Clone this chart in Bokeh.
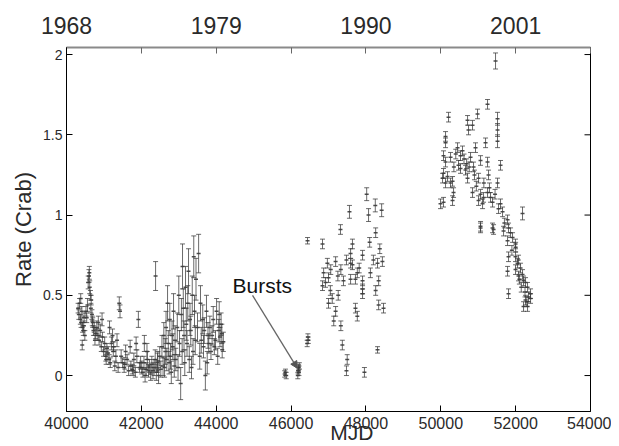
from bokeh.plotting import figure
from bokeh.models import (LinearAxis, FixedTicker, CustomJSTickFormatter, Range1d,
                          Arrow, NormalHead, Label, ColumnDataSource)
from bokeh.embed import file_html
from bokeh.resources import INLINE

# ---- data: segment 1 (1968-1979) ----
a_mjd = [40310, 40330, 40350, 40370, 40390, 40410, 40430, 40450, 40470, 40490, 40380, 40420, 40460,
         40520, 40540, 40560, 40580, 40600, 40620, 40640, 40660, 40680, 40700, 40720, 40740, 40760, 40780, 40610, 40650, 40690,
         40810, 40840, 40870, 40900, 40930, 40960, 40990, 41020, 41050, 41080, 40850, 40950, 41060,
         41110, 41140, 41170, 41200, 41230, 41260, 41290, 41320, 41350, 41380, 41150, 41250,
         41410, 41430, 41460, 41500, 41540, 41580, 41620, 41660, 41700, 41560,
         41720, 41760, 41800, 41840, 41880, 41920, 41950, 41980, 41860, 41780,
         42010, 42040, 42070, 42100, 42130, 42160, 42190, 42080, 42220, 42250, 42280, 42150,
         42310, 42380, 42340, 42370, 42400, 42430, 42460, 42490, 42520, 42550, 42580, 42600, 42440,
         42620, 42640, 42660, 42680, 42700, 42720, 42740, 42760, 42780, 42800, 42820, 42840, 42860, 42880, 42900,
         42920, 43100, 42960, 42980, 43000, 43020, 43050, 43070, 43090, 43120, 43140, 43160, 43180, 43200,
         43260, 43400, 43220, 43240, 43280, 43300, 43320, 43340, 43360, 43380, 43420, 43440, 43460,
         43530, 43500, 43560, 43580, 43600, 43710, 43640, 43660, 43680, 43740, 43760, 43780,
         43800, 43830, 43860, 43890, 43920, 43950, 43980, 44010, 44040, 44070, 44100, 44130, 44160, 44190, 44080, 44150]
a_rate = [0.42, 0.38, 0.45, 0.35, 0.33, 0.40, 0.30, 0.28, 0.36, 0.25, 0.48, 0.19, 0.31,
          0.40, 0.36, 0.44, 0.58, 0.62, 0.55, 0.50, 0.47, 0.38, 0.33, 0.28, 0.30, 0.22, 0.26, 0.64, 0.42, 0.34,
          0.30, 0.25, 0.22, 0.28, 0.18, 0.24, 0.15, 0.20, 0.12, 0.17, 0.33, 0.35, 0.10,
          0.14, 0.10, 0.08, 0.20, 0.25, 0.18, 0.06, 0.12, 0.22, 0.05, 0.30, 0.15,
          0.45, 0.40, 0.12, 0.08, 0.05, 0.15, 0.10, 0.03, 0.18, 0.07,
          0.06, 0.04, 0.10, 0.02, 0.12, 0.35, 0.05, 0.08, 0.20, 0.03,
          0.05, 0.02, 0.08, 0.00, 0.04, 0.10, 0.03, 0.20, 0.06, 0.01, 0.07, 0.15,
          0.03, 0.62, 0.05, 0.10, 0.02, 0.08, 0.00, 0.12, 0.04, 0.18, 0.06, 0.25, 0.09,
          0.05, 0.15, 0.30, 0.10, 0.45, 0.20, 0.08, 0.35, 0.12, 0.02, 0.25, 0.18, 0.40, 0.06, 0.22,
          0.10, 0.68, 0.30, 0.05, 0.50, 0.20, -0.05, 0.38, 0.15, 0.42, 0.25, 0.08, 0.55, 0.32,
          0.65, 0.74, 0.20, 0.45, 0.10, 0.35, 0.28, 0.05, 0.50, 0.15, 0.40, 0.22, 0.60,
          0.76, 0.30, 0.12, 0.45, 0.22, 0.00, 0.35, 0.18, 0.28, 0.40, 0.08, 0.25,
          0.20, 0.30, 0.15, 0.25, 0.35, 0.18, 0.22, 0.40, 0.12, 0.28, 0.24, 0.32, 0.16, 0.21, 0.38, 0.26]
a_err = [0.03, 0.03, 0.03, 0.03, 0.03, 0.03, 0.03, 0.03, 0.03, 0.03, 0.03, 0.03, 0.03,
         0.03, 0.03, 0.04, 0.04, 0.04, 0.04, 0.03, 0.03, 0.03, 0.03, 0.03, 0.03, 0.03, 0.03, 0.04, 0.03, 0.03,
         0.04, 0.03, 0.03, 0.04, 0.03, 0.03, 0.03, 0.04, 0.03, 0.03, 0.04, 0.04, 0.03,
         0.04, 0.03, 0.03, 0.04, 0.04, 0.03, 0.03, 0.04, 0.04, 0.03, 0.04, 0.03,
         0.04, 0.04, 0.04, 0.03, 0.03, 0.04, 0.03, 0.03, 0.04, 0.03,
         0.03, 0.03, 0.04, 0.03, 0.04, 0.05, 0.03, 0.04, 0.04, 0.03,
         0.04, 0.03, 0.04, 0.04, 0.04, 0.05, 0.04, 0.05, 0.04, 0.04, 0.05, 0.05,
         0.05, 0.09, 0.05, 0.06, 0.05, 0.06, 0.05, 0.06, 0.05, 0.07, 0.06, 0.08, 0.06,
         0.06, 0.08, 0.10, 0.07, 0.11, 0.08, 0.07, 0.10, 0.08, 0.07, 0.09, 0.08, 0.11, 0.07, 0.09,
         0.07, 0.14, 0.09, 0.08, 0.12, 0.08, 0.10, 0.10, 0.08, 0.12, 0.09, 0.08, 0.13, 0.10,
         0.14, 0.13, 0.08, 0.11, 0.08, 0.10, 0.09, 0.07, 0.12, 0.08, 0.10, 0.09, 0.13,
         0.12, 0.09, 0.08, 0.11, 0.08, 0.09, 0.09, 0.07, 0.08, 0.10, 0.07, 0.08,
         0.06, 0.07, 0.05, 0.06, 0.08, 0.05, 0.06, 0.08, 0.05, 0.07, 0.06, 0.07, 0.05, 0.06, 0.08, 0.06]

# ---- segment 2: bursts ----
b_mjd = [45830, 45850, 45870, 46180, 46190, 46200, 46210, 46220, 46440, 46430, 46450, 46460]
b_rate = [0.01, 0.02, 0.00, 0.00, 0.03, 0.05, 0.02, 0.06, 0.84, 0.20, 0.24, 0.22]
b_err = [0.02, 0.02, 0.02, 0.02, 0.02, 0.02, 0.02, 0.02, 0.02, 0.02, 0.02, 0.02]

# ---- segment 3 (1986-1992) ----
c_mjd = [46840, 47320, 47560, 48070, 48420, 48260, 47640, 47590, 47910, 48100, 48370, 48440, 48310,
         48120, 48340, 48260, 48340, 48470, 46970, 47190, 47330, 46870, 47000, 46840, 47050, 47100,
         47190, 47140, 47330, 47400, 47590, 47720, 47910, 47910, 47720, 47770, 47910, 47640, 47770,
         47590, 47370, 47500, 47480, 47960, 48310, 46920, 47060, 47250, 47480, 47820, 48200, 47000,
         47260, 48020, 48250]
c_rate = [0.82, 0.91, 1.02, 1.00, 1.03, 0.89, 0.82, 0.76, 0.75, 0.83, 0.79, 0.71, 0.70,
          0.64, 0.59, 0.53, 0.44, 0.42, 0.70, 0.71, 0.66, 0.64, 0.61, 0.56, 0.53, 0.48,
          0.40, 0.34, 0.31, 0.59, 0.60, 0.60, 0.59, 0.51, 0.42, 0.37, 0.54, 0.69, 0.64,
          0.70, 0.19, 0.10, 0.03, 0.02, 0.16, 0.58, 0.66, 0.62, 0.72, 0.67, 0.72, 0.45,
          0.50, 1.13, 1.06]
c_err = [0.03, 0.03, 0.04, 0.04, 0.04, 0.03, 0.03, 0.03, 0.03, 0.03, 0.03, 0.03, 0.03,
         0.03, 0.03, 0.03, 0.03, 0.03, 0.03, 0.03, 0.03, 0.03, 0.03, 0.03, 0.03, 0.03,
         0.03, 0.03, 0.03, 0.03, 0.03, 0.03, 0.03, 0.03, 0.03, 0.03, 0.03, 0.03, 0.03,
         0.03, 0.03, 0.03, 0.03, 0.03, 0.02, 0.03, 0.03, 0.03, 0.03, 0.03, 0.03, 0.03,
         0.03, 0.04, 0.04]

# ---- segment 4 (1995-2002) ----
d_mjd = [51463, 51249, 50207, 50982, 51516, 51516, 51516, 50715, 50848, 50741, 50127, 51196, 50127,
         50448, 50527, 50928, 50073, 50261, 50127, 50795, 51062, 51249, 50474, 50527, 50661, 50875,
         51009, 51596, 50073, 50180, 50314, 50047, 50715, 51276, 51516, 50261, 50127, 50073, 50314,
         50848, 51062, 51142, 51249, 51329, 51383, 51116, 51009, 51596, 51543, 51650, 52184, 51784,
         51810, 51677, 51864, 51917, 51784, 51383, 51062, 51997, 51997, 52077, 52051, 52131, 51810,
         51784, 51997, 52077, 52184, 52211, 52318, 52398, 52344, 52264, 52398, 52318, 52211, 51810,
         52264, 49993, 50341, 51062, 51410, 50580, 50620, 50690, 50760, 50400, 50350, 50900, 50950,
         51150, 51300, 51450, 51700, 51900, 52000, 52100, 52150, 52250, 52300]
d_rate = [1.96, 1.69, 1.61, 1.63, 1.60, 1.53, 1.46, 1.59, 1.56, 1.53, 1.49, 1.45, 1.45,
          1.42, 1.37, 1.42, 1.37, 1.36, 1.33, 1.36, 1.34, 1.33, 1.31, 1.29, 1.28, 1.30,
          1.23, 1.31, 1.26, 1.24, 1.21, 1.23, 1.23, 1.25, 1.20, 1.20, 1.20, 1.08, 1.09,
          1.14, 1.13, 1.11, 1.14, 1.11, 1.08, 1.07, 1.09, 1.07, 1.04, 1.02, 1.01, 0.97,
          0.92, 0.90, 0.89, 0.86, 0.84, 0.92, 0.92, 0.82, 0.74, 0.72, 0.70, 0.67, 0.74,
          0.65, 0.66, 0.62, 0.63, 0.59, 0.55, 0.51, 0.49, 0.47, 0.48, 0.43, 0.43, 0.51,
          0.58, 1.07, 1.14, 0.93, 0.91, 1.40, 1.35, 1.32, 1.30, 1.38, 1.30, 1.25, 1.18,
          1.20, 1.17, 1.13, 0.95, 0.78, 0.80, 0.60, 0.55, 0.52, 0.46]
d_err = [0.05, 0.03, 0.03, 0.03, 0.04, 0.04, 0.04, 0.03, 0.03, 0.03, 0.03, 0.03, 0.03,
         0.03, 0.03, 0.03, 0.03, 0.03, 0.03, 0.03, 0.03, 0.03, 0.03, 0.03, 0.03, 0.03,
         0.03, 0.03, 0.03, 0.03, 0.03, 0.03, 0.03, 0.03, 0.03, 0.03, 0.03, 0.03, 0.03,
         0.03, 0.03, 0.03, 0.03, 0.03, 0.03, 0.03, 0.03, 0.03, 0.03, 0.03, 0.04, 0.03,
         0.03, 0.03, 0.03, 0.03, 0.03, 0.03, 0.03, 0.03, 0.03, 0.03, 0.03, 0.03, 0.03,
         0.03, 0.03, 0.03, 0.03, 0.03, 0.03, 0.03, 0.03, 0.03, 0.03, 0.03, 0.03, 0.03,
         0.03, 0.03, 0.03, 0.03, 0.03, 0.03, 0.03, 0.03, 0.03, 0.03, 0.03, 0.03, 0.03,
         0.03, 0.03, 0.03, 0.03, 0.03, 0.03, 0.03, 0.03, 0.03, 0.03]

x_ticks = [40000, 42000, 44000, 46000, 48000, 50000, 52000, 54000]
y_ticks = [0, 0.5, 1, 1.5, 2]
year_ticks = [40000, 44000, 48000, 52000]
year_labels = ["1968", "1979", "1990", "2001"]

mjd = a_mjd + b_mjd + c_mjd + d_mjd
rate = a_rate + b_rate + c_rate + d_rate
err = a_err + b_err + c_err + d_err
lo = [r - e for r, e in zip(rate, err)]
hi = [r + e for r, e in zip(rate, err)]
src = ColumnDataSource(dict(x=mjd, y=rate, lo=lo, hi=hi))

FONT = "Liberation Sans"
INK = "#2a2a2a"

p = figure(width=611, height=446, x_range=Range1d(40000, 54000), y_range=Range1d(-0.224, 2.044),
           output_backend="svg", toolbar_location=None,
           min_border_left=66, min_border_right=21, min_border_top=47, min_border_bottom=35)
p.xgrid.visible = False
p.ygrid.visible = False
p.outline_line_color = "black"
p.outline_line_width = 1

col = "#3a3a3a"
p.segment(x0="x", y0="lo", x1="x", y1="hi", source=src, line_color=col, line_width=1, line_alpha=0.75)
p.scatter(x="x", y="lo", source=src, marker="dash", size=5, line_color=col, line_alpha=0.75)
p.scatter(x="x", y="hi", source=src, marker="dash", size=5, line_color=col, line_alpha=0.75)
p.scatter(x="x", y="y", source=src, marker="dash", size=4, line_color=col, line_width=1.5, line_alpha=0.9)

# inward ticks on the right frame edge (half of each dash is clipped by the frame)
p.scatter(x=[p.x_range.end] * len(y_ticks), y=y_ticks, marker="dash", size=12,
          line_color="black", line_width=1)

# bottom axis
xa = p.xaxis[0]
xa.ticker = FixedTicker(ticks=x_ticks)
xa.axis_label = "\u00a0" * 8 + "MJD"
xa.axis_label_text_font = FONT
xa.axis_label_text_font_size = "21px"
xa.axis_label_text_font_style = "normal"
xa.axis_label_text_color = INK
xa.axis_label_standoff = -11
xa.major_label_text_font = FONT
xa.major_label_text_font_size = "16px"
xa.major_label_text_color = INK
xa.major_label_standoff = 5
xa.major_tick_in = 6
xa.major_tick_out = 0
xa.minor_tick_line_color = None

# left axis
ya = p.yaxis[0]
ya.ticker = FixedTicker(ticks=y_ticks)
ya.formatter = CustomJSTickFormatter(code="return tick.toString();")
ya.axis_label = "Rate (Crab)"
ya.axis_label_text_font = FONT
ya.axis_label_text_font_size = "22px"
ya.axis_label_text_font_style = "normal"
ya.axis_label_text_color = INK
ya.axis_label_standoff = 4
ya.major_label_text_font = FONT
ya.major_label_text_font_size = "14px"
ya.major_label_text_color = INK
ya.major_label_standoff = 4
ya.major_tick_in = 6
ya.major_tick_out = 0
ya.minor_tick_line_color = None

# top axis with years
minor_top = [t for t in x_ticks if t not in year_ticks]
code = "const t = %s; const l = %s; const i = t.indexOf(Math.round(tick)); return i >= 0 ? l[i] : '';" % (
    str(year_ticks), str(year_labels).replace("'", '"'))
top = LinearAxis(ticker=FixedTicker(ticks=year_ticks, minor_ticks=minor_top),
                 formatter=CustomJSTickFormatter(code=code),
                 major_label_text_font=FONT, major_label_text_font_size="23px",
                 major_label_text_color=INK, major_label_standoff=14,
                 major_tick_in=6, major_tick_out=0, minor_tick_in=6, minor_tick_out=0,
                 minor_tick_line_color="#666666",
                 axis_line_color="#8a8a8a", axis_line_width=2, major_tick_line_color="#666666")
p.add_layout(top, "above")

# Bursts annotation
p.add_layout(Label(x=44435, y=0.49, text="Bursts", text_font=FONT, text_font_size="21px",
                   text_color="#111111"))
p.add_layout(Arrow(x_start=44970, y_start=0.50, x_end=46170, y_end=0.045,
                   line_color="#666666", line_width=1.3,
                   end=NormalHead(size=7, fill_color="#555555", line_color="#555555")))

open("out.html", "w").write(file_html(p, INLINE))
